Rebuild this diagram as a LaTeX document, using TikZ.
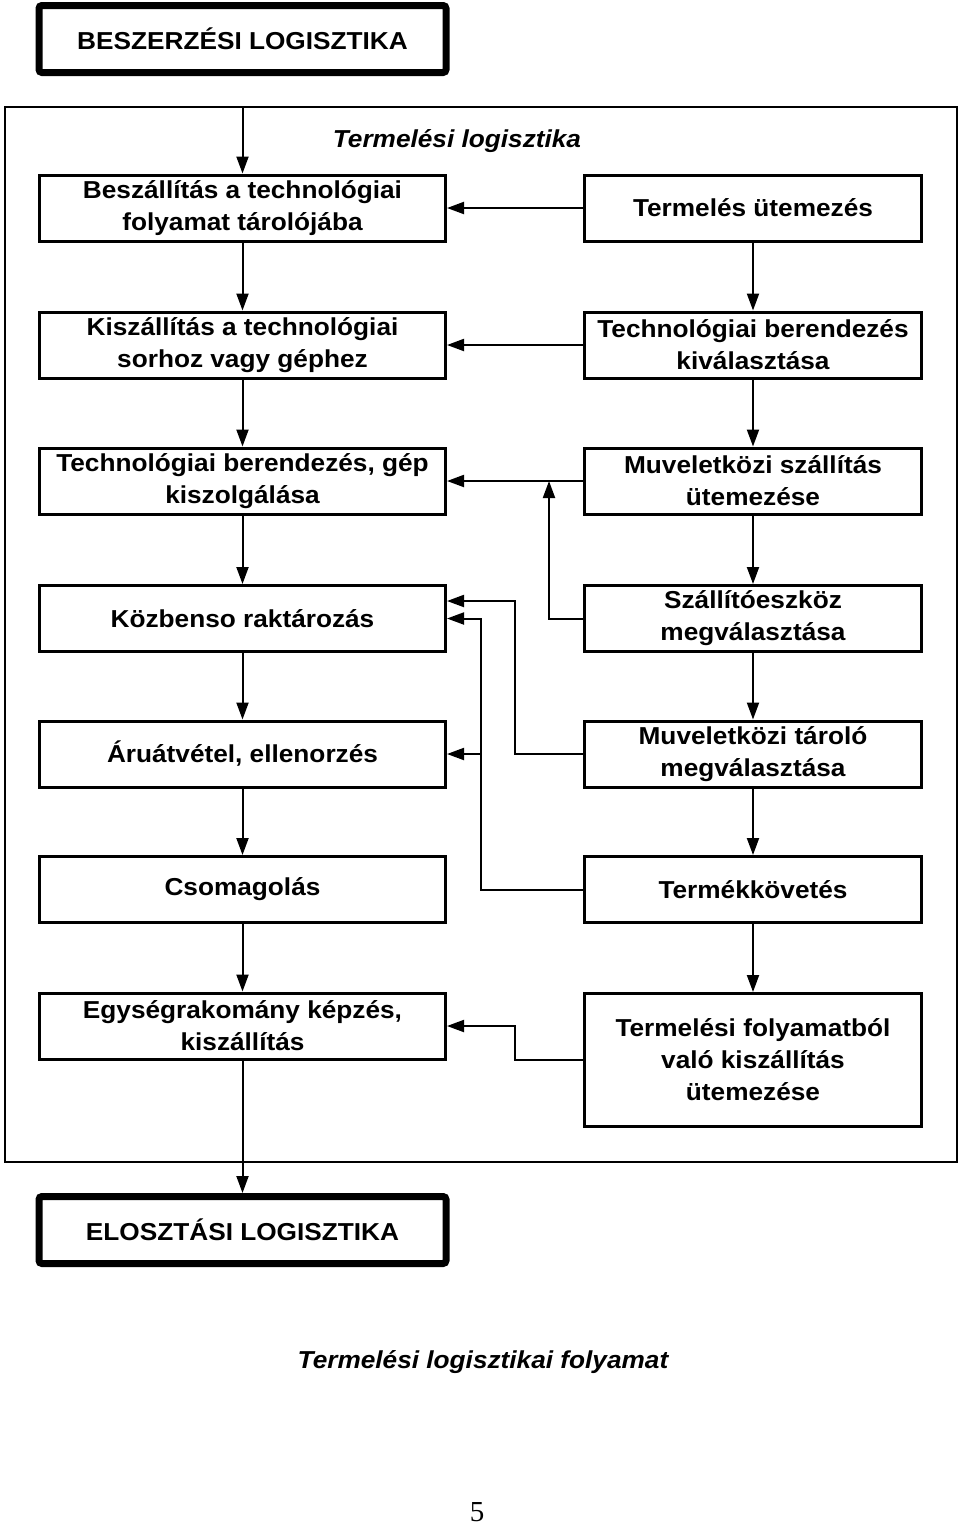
\documentclass[tikz,border=0pt]{standalone}
\usepackage{fontspec}
\setmainfont{Liberation Sans}[FakeStretch=1.07]
\newfontfamily\serifnum{Liberation Serif}
\usetikzlibrary{arrows.meta}
\tikzset{
  boxtxt/.style={font=\fontsize{24.5}{32}\selectfont\bfseries, align=center},
  lbox/.style={boxtxt, draw, line width=3pt, minimum width=406pt, minimum height=66pt, inner sep=0pt},
  rbox/.style={boxtxt, draw, line width=3pt, minimum width=337pt, minimum height=66pt, inner sep=0pt},
  headbox/.style={boxtxt, draw, line width=7pt, rounded corners=3pt, minimum width=407pt, minimum height=67pt, inner sep=0pt},
  conn/.style={line width=2pt},
  arr/.style={conn, -{Triangle[length=17pt,width=12pt]}},
  frame/.style={line width=2pt}
}
\begin{document}
\begin{tikzpicture}[x=1pt,y=-1pt]
\useasboundingbox (0,0) rectangle (960,1529);
% frame
\draw[frame] (5,107) rectangle (957,1162);
\coordinate (ftop) at (242.5,107);
% header boxes
\node[headbox] (besz) at (242.5,39) {BESZERZÉSI LOGISZTIKA};
\node[headbox] (elo) at (242.5,1230) {ELOSZTÁSI LOGISZTIKA};
% titles
\node[boxtxt, font=\fontsize{24.5}{32}\selectfont\bfseries\itshape] (tl) at (457,141) {Termelési logisztika};
\node[boxtxt, font=\fontsize{24.5}{32}\selectfont\bfseries\itshape] (tlf) at (483,1362) {Termelési logisztikai folyamat};
\node[font=\serifnum\fontsize{29}{32}\selectfont, inner sep=0pt, anchor=base] (pg) at (477,1521) {5};
% left column
\node[lbox] (l1) at (242.5,208) {Beszállítás a technológiai\\folyamat tárolójába};
\node[lbox] (l2) at (242.5,345) {Kiszállítás a technológiai\\sorhoz vagy géphez};
\node[lbox] (l3) at (242.5,481) {Technológiai berendezés, gép\\kiszolgálása};
\node[lbox] (l4) at (242.5,618.5) {Közbenso raktározás};
\node[lbox] (l5) at (242.5,754) {Áruátvétel, ellenorzés};
\node[lbox] (l6) at (242.5,889.5) {Csomagolás};
\node[lbox] (l7) at (242.5,1026) {Egységrakomány képzés,\\kiszállítás};
% right column
\node[rbox] (r1) at (753,208) {Termelés ütemezés};
\node[rbox] (r2) at (753,345) {Technológiai berendezés\\kiválasztása};
\node[rbox] (r3) at (753,481) {Muveletközi szállítás\\ütemezése};
\node[rbox] (r4) at (753,618.5) {Szállítóeszköz\\megválasztása};
\node[rbox] (r5) at (753,754) {Muveletközi tároló\\megválasztása};
\node[rbox] (r6) at (753,889.5) {Termékkövetés};
\node[rbox, minimum height=133pt] (r7) at (753,1060) {Termelési folyamatból\\való kiszállítás\\ütemezése};
% vertical arrows
\draw[arr] (ftop) -- (l1.north);
\draw[arr] (l1) -- (l2);
\draw[arr] (l2) -- (l3);
\draw[arr] (l3) -- (l4);
\draw[arr] (l4) -- (l5);
\draw[arr] (l5) -- (l6);
\draw[arr] (l6) -- (l7);
\draw[arr] (l7) -- (elo);
\draw[arr] (r1) -- (r2);
\draw[arr] (r2) -- (r3);
\draw[arr] (r3) -- (r4);
\draw[arr] (r4) -- (r5);
\draw[arr] (r5) -- (r6);
\draw[arr] (r6) -- (r7);
% horizontal arrows
\draw[arr] (r1) -- (l1);
\draw[arr] (r2) -- (l2);
\draw[arr] (r3) -- (l3);
\coordinate (j1) at (549,481);
\draw[arr] (r4.west) -| (j1);
\coordinate (k1) at (515,601);
\draw[arr] (r5.west) -| (k1) -- (k1 -| l4.east);
\coordinate (k2) at (481,618.5);
\draw[arr] (r6.west) -| (k2) -- (l4.east);
\coordinate (k3) at (481,754);
\draw[arr] (k3) -- (l5.east);
\coordinate (k4) at (515,1026);
\draw[arr] (r7.west) -| (k4) -- (l7.east);
\end{tikzpicture}
\end{document}
